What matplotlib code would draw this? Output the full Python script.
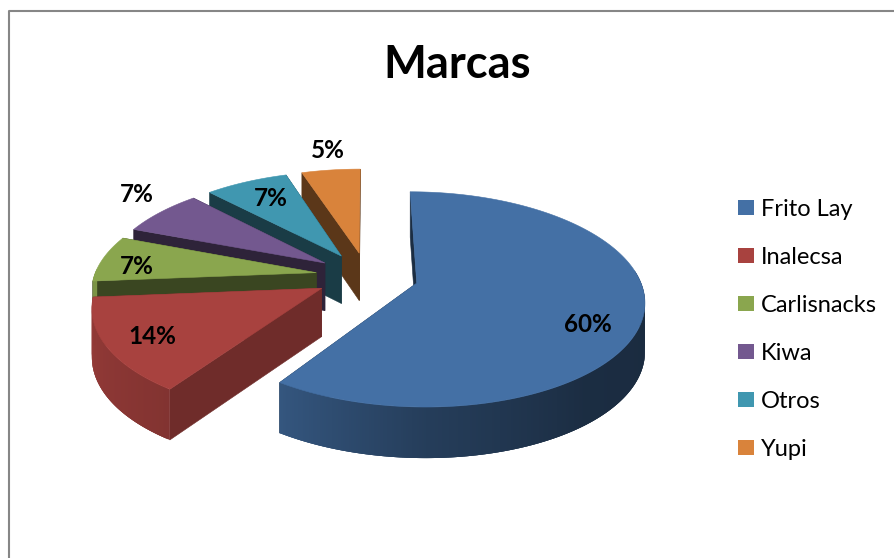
"""
Marcas: exploded 3D pie, drawn by hand since matplotlib has no 3D pie
"""

import numpy as np
import matplotlib
matplotlib.use('Agg')
import matplotlib.pyplot as plt
from matplotlib.patches import Patch

plt.rcParams['font.family'] = ['Lato', 'DejaVu Sans']

# data
brands = ['Frito Lay', 'Inalecsa', 'Carlisnacks', 'Kiwa', 'Otros', 'Yupi']
shares = [59.5, 14.2, 7.1, 7.1, 7.1, 5.0]
colors = ['#4470A5', '#A8423F', '#8AA64E', '#73588F', '#4097B0', '#D9833B']
face_shade = [0.40, 0.66, 0.42, 0.40, 0.40, 0.42]
label_xy = [(588, 325), (152, 337), (137, 266), (137, 195), (271, 199), (328, 151)]

# projection of the pie plane to pixels
CX, CY = 367, 276
RX, RY = 222, 103
PERSP = 0.15
EXPLODE = 0.232
DEPTH = 48


def project(x, y):
    """y points to the viewer; returns pixel coordinates of the top surface"""
    s = 1 / (1 - PERSP * y)
    return CX + RX * x * s, CY + RY * y * s


def drop(y):
    return DEPTH * (1 + 0.06 * y)


def rim_shade(deg):
    return np.interp(deg, [90, 140, 180, 216, 266, 360], [0.38, 0.40, 0.55, 0.78, 0.90, 0.90])


def shaded(color, k):
    return tuple(c * k for c in matplotlib.colors.to_rgb(color))


def draw_slice(ax, start, end, color, face_k):
    mid = np.radians((start + end) / 2)
    ox, oy = EXPLODE * np.sin(mid), -EXPLODE * np.cos(mid)

    deg = np.linspace(start, end, int(end - start) * 2 + 2)
    ang = np.radians(deg)
    rim_x = ox + np.sin(ang)
    rim_y = oy - np.cos(ang)
    px, py = project(rim_x, rim_y)
    low = py + drop(rim_y)
    ax0, ay0 = project(ox, oy)
    ay1 = ay0 + drop(oy)

    # radial cut faces
    dark = shaded(color, face_k)
    for i in (0, -1):
        ax.fill([ax0, px[i], px[i], ax0], [ay0, py[i], low[i], ay1],
                color=dark, lw=0.4, zorder=1)

    # outer wall, overlapping strips so no seams show through the gradient
    last = len(deg) - 1
    for i in range(last):
        if rim_y[i] < -0.05 and rim_y[i + 1] < -0.05:
            continue
        j = min(i + 3, last)
        k = rim_shade((deg[i] + deg[i + 1]) / 2)
        ax.fill([px[i], px[j], px[j], px[i]],
                [py[i], py[j], low[j], low[i]],
                color=shaded(color, k), lw=0, zorder=1)

    # top
    ax.fill(np.r_[ax0, px], np.r_[ay0, py], color=color, lw=0.4, zorder=1)


def main():
    fig = plt.figure(figsize=(8.94, 5.58), dpi=100)
    ax = fig.add_axes([0, 0, 1, 1])
    ax.set_xlim(0, 894)
    ax.set_ylim(558, 0)
    ax.axis('off')

    # chart frame, right and bottom sides fall outside the crop
    ax.plot([9, 9, 900], [565, 11, 11], color='#868686', lw=1.5, zorder=0)

    edges = np.r_[0, np.cumsum(shares)] * 360 / sum(shares)
    # back to front, the big slice last
    for i in range(len(shares) - 1, -1, -1):
        draw_slice(ax, edges[i], edges[i + 1], colors[i], face_shade[i])

    for share, (x, y) in zip(shares, label_xy):
        ax.text(x, y, f'{share:.0f}%', ha='center', va='center',
                fontsize=17.5, fontweight='bold', color='black', zorder=3)

    ax.text(457, 65, 'Marcas', ha='center', va='center',
            fontsize=32.7, fontweight='bold', color='black')

    handles = [Patch(facecolor=c, edgecolor='none') for c in colors]
    ax.legend(handles, brands, loc='upper left', bbox_to_anchor=(738 / 894, 1 - 199 / 558),
              frameon=False, fontsize=17, handlelength=0.68, handleheight=0.59,
              handletextpad=0.3, labelspacing=1.145, borderpad=0, borderaxespad=0)

    fig.savefig('out.png', dpi=100)


if __name__ == '__main__':
    main()
